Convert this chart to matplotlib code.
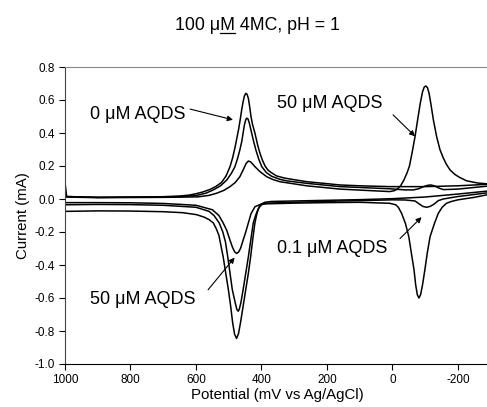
import matplotlib
matplotlib.use("Agg")
import matplotlib.pyplot as plt

plt.rcParams['font.family'] = ['Liberation Sans', 'DejaVu Sans']

# ---------------- data ----------------
# 0 uM AQDS: forward (upper) branch, 1000 -> -300 mV
v0_up = [1000, 995, 900, 800, 700, 650, 620, 600, 580, 557, 540, 522, 508, 496, 488, 481, 475, 470, 465, 460, 456, 452, 448, 444, 440, 436, 432, 427, 420, 412, 405, 397, 389, 380, 370, 354, 330, 300, 262, 200, 160, 100, 8, -100, -200, -300]
i0_up = [0.10, 0.015, 0.010, 0.012, 0.014, 0.018, 0.024, 0.032, 0.042, 0.058, 0.075, 0.10, 0.14, 0.196, 0.25, 0.31, 0.37, 0.42, 0.48, 0.545, 0.59, 0.625, 0.64, 0.635, 0.61, 0.56, 0.50, 0.45, 0.40, 0.33, 0.28, 0.235, 0.20, 0.175, 0.16, 0.14, 0.127, 0.117, 0.105, 0.093, 0.085, 0.08, 0.075, 0.075, 0.08, 0.09]
# 0 uM AQDS: reverse (lower) branch, -300 -> 1000 mV
v0_dn = [-300, -200, -100, 0, 100, 200, 300, 370, 390, 400, 407, 414, 420, 427, 433, 440, 448, 456, 464, 470, 476, 482, 488, 494, 501, 509, 517, 524, 530, 538, 547, 560, 575, 598, 640, 700, 800, 900, 1000]
i0_dn = [0.05, 0.03, 0.012, 0.002, -0.004, -0.008, -0.012, -0.015, -0.02, -0.03, -0.047, -0.09, -0.145, -0.25, -0.35, -0.45, -0.55, -0.65, -0.75, -0.815, -0.845, -0.82, -0.75, -0.65, -0.55, -0.45, -0.35, -0.28, -0.22, -0.18, -0.145, -0.125, -0.11, -0.095, -0.083, -0.077, -0.073, -0.072, -0.075]

# 0.1 uM AQDS
v1_up = [1000, 900, 800, 700, 640, 598, 570, 547, 525, 506, 492, 481, 473, 466, 460, 456, 452, 448, 445, 441, 437, 430, 424, 417, 408, 399, 385, 369, 345, 323, 262, 160, 8, -40, -64, -80, -95, -108, -117, -128, -140, -155, -200, -300]
i1_up = [0.015, 0.010, 0.011, 0.012, 0.015, 0.022, 0.035, 0.055, 0.08, 0.115, 0.155, 0.196, 0.245, 0.297, 0.35, 0.40, 0.45, 0.48, 0.49, 0.485, 0.46, 0.40, 0.35, 0.297, 0.24, 0.196, 0.16, 0.138, 0.12, 0.11, 0.095, 0.075, 0.062, 0.055, 0.055, 0.062, 0.075, 0.083, 0.085, 0.08, 0.068, 0.057, 0.06, 0.08]
v1_dn = [-300, -200, -155, -140, -128, -115, -104, -93, -82, -69, -40, 0, 100, 200, 300, 384, 400, 410, 418, 425, 432, 440, 448, 456, 463, 468, 471, 475, 480, 489, 496, 503, 510, 518, 529, 545, 560, 600, 700, 800, 900, 1000]
i1_dn = [0.04, 0.015, 0.0, -0.01, -0.03, -0.045, -0.05, -0.045, -0.03, -0.012, -0.006, -0.005, -0.01, -0.014, -0.02, -0.025, -0.035, -0.06, -0.10, -0.145, -0.24, -0.35, -0.45, -0.55, -0.63, -0.67, -0.68, -0.67, -0.63, -0.55, -0.45, -0.35, -0.26, -0.20, -0.145, -0.10, -0.075, -0.05, -0.038, -0.034, -0.033, -0.035]

# 50 uM AQDS
v2_up = [1000, 900, 800, 700, 594, 560, 537, 515, 496, 480, 466, 455, 447, 440, 433, 426, 420, 404, 384, 365, 344, 262, 160, 60, 8, -5, -15, -25, -35, -45, -52, -60, -69, -77, -85, -92, -97, -102, -107, -112, -118, -125, -135, -145, -155, -165, -176, -190, -206, -227, -260, -300]
i2_up = [0.012, 0.008, 0.009, 0.010, 0.013, 0.022, 0.035, 0.052, 0.075, 0.10, 0.135, 0.18, 0.215, 0.23, 0.225, 0.21, 0.196, 0.165, 0.135, 0.118, 0.105, 0.08, 0.06, 0.05, 0.045, 0.05, 0.06, 0.08, 0.115, 0.16, 0.20, 0.28, 0.378, 0.48, 0.58, 0.65, 0.678, 0.685, 0.675, 0.64, 0.57, 0.48, 0.378, 0.30, 0.25, 0.21, 0.176, 0.15, 0.13, 0.11, 0.097, 0.09]
v2_dn = [-300, -250, -200, -180, -165, -152, -140, -128, -115, -107, -99, -92, -86, -81, -76, -71, -66, -58, -50, -40, -28, -18, -10, 8, 100, 200, 300, 400, 420, 432, 440, 448, 456, 464, 470, 476, 482, 489, 496, 506, 517, 530, 550, 600, 700, 800, 900, 1000]
i2_dn = [0.03, 0.01, -0.005, -0.015, -0.026, -0.05, -0.087, -0.15, -0.228, -0.32, -0.43, -0.52, -0.58, -0.60, -0.58, -0.52, -0.43, -0.33, -0.228, -0.15, -0.087, -0.05, -0.035, -0.026, -0.02, -0.022, -0.025, -0.03, -0.047, -0.09, -0.145, -0.20, -0.25, -0.30, -0.322, -0.33, -0.32, -0.29, -0.25, -0.19, -0.145, -0.10, -0.065, -0.038, -0.027, -0.023, -0.022, -0.022]

# start transient at 1000 mV
vt = [1000, 1000]
it = [-0.68, -0.82]

x_ticks = [1000, 800, 600, 400, 200, 0, -200]
y_ticks = [-1.0, -0.8, -0.6, -0.4, -0.2, 0.0, 0.2, 0.4, 0.6, 0.8]

# ---------------- figure ----------------
W, H = 487, 407
fig = plt.figure(figsize=(W / 100, H / 100), dpi=100)
ax_l, ax_r, ax_t, ax_b = 65, 490, 67, 364
ax = fig.add_axes([ax_l / W, 1 - ax_b / H, (ax_r - ax_l) / W, (ax_b - ax_t) / H])

lw = 1.1
for v, i in [(v0_up, i0_up), (v0_dn, i0_dn), (v1_up, i1_up), (v1_dn, i1_dn),
             (v2_up, i2_up), (v2_dn, i2_dn), (vt, it)]:
    ax.plot(v, i, color='black', lw=lw, solid_joinstyle='round')

ax.set_xlim(1000, -298)
ax.set_ylim(-1.0, 0.8)
ax.set_xticks(x_ticks)
ax.set_yticks(y_ticks)
ax.set_xticklabels([str(t) for t in x_ticks])
ax.set_yticklabels([f"{t:.1f}" for t in y_ticks])
ax.tick_params(direction='out', length=4, width=0.8, labelsize=8.5, colors='black')
ax.spines['top'].set_color('#888888')
ax.spines['right'].set_visible(False)
ax.spines['left'].set_color('#444444')
ax.spines['bottom'].set_color('black')
ax.set_xlabel('Potential (mV vs Ag/AgCl)', fontsize=10.8, labelpad=1)
ax.set_ylabel('Current (mA)', fontsize=10.8, labelpad=3)

fs = 13
aprops = dict(arrowstyle='-|>', color='black', lw=0.8, mutation_scale=8, shrinkA=0, shrinkB=0)
ax.text(924, 0.515, '0 \u03bcM AQDS', fontsize=fs, va='center', ha='left')
ax.annotate('', xy=(487, 0.48), xytext=(618, 0.545), arrowprops=aprops)
ax.text(354, 0.58, '50 \u03bcM AQDS', fontsize=fs, va='center', ha='left')
ax.annotate('', xy=(-69, 0.38), xytext=(-2, 0.51), arrowprops=aprops)
ax.text(354, -0.30, '0.1 \u03bcM AQDS', fontsize=fs, va='center', ha='left')
ax.annotate('', xy=(-89, -0.11), xytext=(-23, -0.24), arrowprops=aprops)
ax.text(924, -0.61, '50 \u03bcM AQDS', fontsize=fs, va='center', ha='left')
ax.annotate('', xy=(482, -0.355), xytext=(563, -0.55), arrowprops=aprops)

# title with underlined "M"
tfs = 12.8
title = '100 \u03bcM 4MC, pH = 1'
tx, ty = 257 / W, 1 - 25 / H
t = fig.text(tx, ty, title, fontsize=tfs, ha='center', va='center')
fig.canvas.draw()
r = fig.canvas.get_renderer()
bb = t.get_window_extent(r)
pre = fig.text(0, 0, '100 \u03bc', fontsize=tfs)
pre2 = fig.text(0, 0, '100 \u03bcM', fontsize=tfs)
w1 = pre.get_window_extent(r).width
w2 = pre2.get_window_extent(r).width
pre.remove(); pre2.remove()
x0 = bb.x0 + w1
x1 = bb.x0 + w2
yl = bb.y0 + 1
fig.add_artist(plt.Line2D([x0 / W, x1 / W], [yl / H, yl / H], color='black', lw=0.9, transform=fig.transFigure))

fig.savefig('out.png', dpi=100)
